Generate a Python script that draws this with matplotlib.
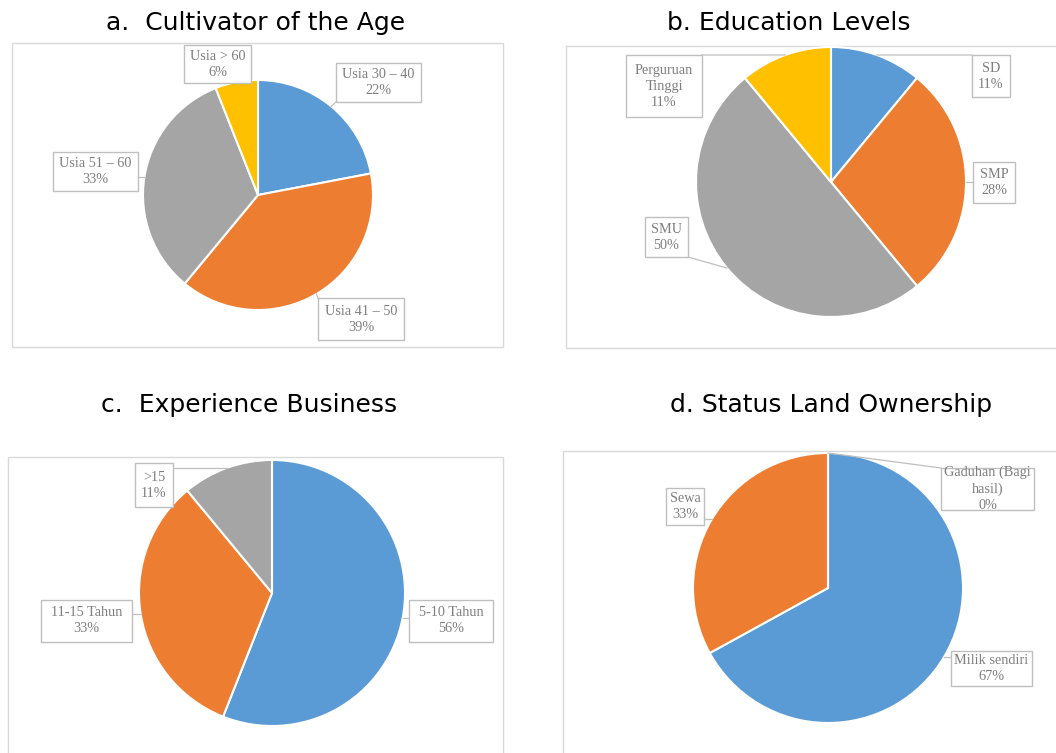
import numpy as np
import matplotlib.pyplot as plt
from matplotlib.patches import Rectangle

W, H = 1056, 753

BLUE, ORANGE, GRAY, YELLOW = "#5b9bd5", "#ed7d31", "#a5a5a5", "#ffc000"

# data
age_labels = ["Usia 30 – 40", "Usia 41 – 50", "Usia 51 – 60", "Usia > 60"]
age_values = [22, 39, 33, 6]

edu_labels = ["SD", "SMP", "SMU", "Perguruan\nTinggi"]
edu_values = [11, 28, 50, 11]

exp_labels = ["5-10 Tahun", "11-15 Tahun", ">15"]
exp_values = [56, 33, 11]

land_labels = ["Milik sendiri", "Sewa", "Gaduhan (Bagi\nhasil)"]
land_values = [67, 33, 0]

# layout (pixels, y down): title, frame, pie centre/radius, label boxes
panels = [
    dict(title="a.  Cultivator of the Age", tpos=(256, 23),
         frame=(12, 43, 503, 347), center=(258, 195), r=115,
         labels=age_labels, values=age_values,
         colors=[BLUE, ORANGE, GRAY, YELLOW],
         boxes=[(336, 63, 421, 102), (318, 298, 404, 340),
                (53, 152, 138, 191), (184, 45, 251, 83)]),
    dict(title="b. Education Levels", tpos=(789, 23),
         frame=(566, 46, 1060, 348), center=(831, 182), r=135,
         labels=edu_labels, values=edu_values,
         colors=[BLUE, ORANGE, GRAY, YELLOW],
         boxes=[(972, 55, 1010, 97), (973, 162, 1015, 203),
                (645, 217, 688, 257), (626, 55, 702, 117)]),
    dict(title="c.  Experience Business", tpos=(249, 405),
         frame=(8, 457, 503, 760), center=(272, 593), r=133,
         labels=exp_labels, values=exp_values,
         colors=[BLUE, ORANGE, GRAY],
         boxes=[(409, 600, 493, 642), (41, 600, 132, 642),
                (135, 463, 173, 507)]),
    dict(title="d. Status Land Ownership", tpos=(831, 405),
         frame=(563, 451, 1060, 760), center=(828, 588), r=135,
         labels=land_labels, values=land_values,
         colors=[BLUE, ORANGE, GRAY],
         boxes=[(951, 651, 1032, 686), (666, 488, 704, 525),
                (941, 468, 1034, 510)]),
]

fig = plt.figure(figsize=(W / 100, H / 100), dpi=100)
ax = fig.add_axes([0, 0, 1, 1])


def Y(y):
    return H - y


for p in panels:
    x0, y0, x1, y1 = p["frame"]
    ax.add_patch(Rectangle((x0, Y(y1)), x1 - x0, y1 - y0, fill=False,
                           ec="#d9d9d9", lw=1.0, zorder=0))
    ax.text(p["tpos"][0], Y(p["tpos"][1]), p["title"], ha="center",
            va="center", fontsize=18, family="DejaVu Sans", color="black")

    cx, cy = p["center"]
    r = p["r"]
    ax.pie(p["values"], colors=p["colors"], startangle=90, counterclock=False,
           center=(cx, Y(cy)), radius=r,
           wedgeprops=dict(edgecolor="white", linewidth=1.5))

    vals = np.array(p["values"], dtype=float)
    cum = np.cumsum(vals) - vals / 2
    mids = np.deg2rad(90 - 360 * cum / vals.sum())
    for lab, v, th, (bx0, by0, bx1, by1) in zip(p["labels"], p["values"],
                                                mids, p["boxes"]):
        axp = cx + r * np.cos(th)
        ayp = Y(cy) + r * np.sin(th)
        ex = min(max(axp, bx0), bx1)
        ey = min(max(ayp, Y(by1)), Y(by0))
        ax.plot([axp, ex], [ayp, ey], color="#bfbfbf", lw=0.9, zorder=3)
        ax.add_patch(Rectangle((bx0, Y(by1)), bx1 - bx0, by1 - by0,
                               fc="white", ec="#bfbfbf", lw=1.0, zorder=4))
        ax.text((bx0 + bx1) / 2, Y((by0 + by1) / 2), f"{lab}\n{v}%",
                ha="center", va="center", multialignment="center",
                fontsize=10.3, family="Liberation Serif", color="#7f7f7f",
                linespacing=1.3, zorder=5)

ax.set_xlim(0, W)
ax.set_ylim(0, H)
ax.set_aspect("equal")
ax.axis("off")

plt.savefig("out.png", dpi=100)
